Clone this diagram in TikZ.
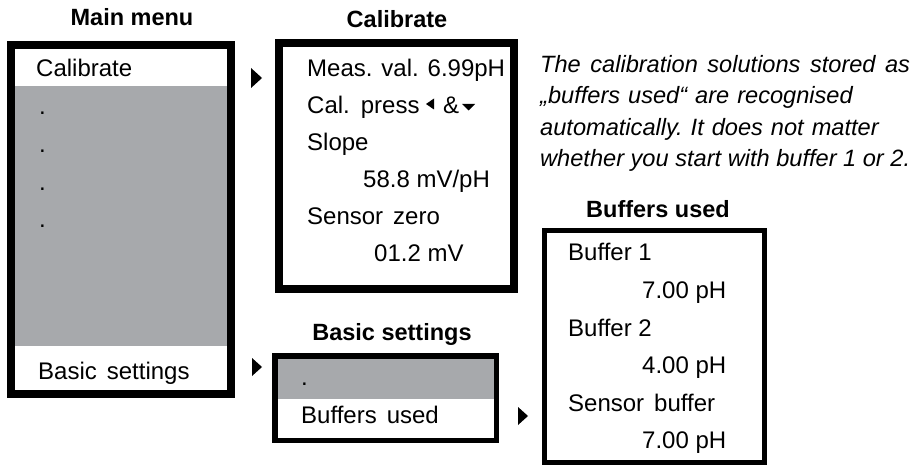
\documentclass[tikz,border=0pt]{standalone}
\usepackage{fontspec}
\setmainfont{Liberation Sans}
\newfontfamily\widefont[WordSpace=1.5]{Liberation Sans}
\definecolor{menugray}{RGB}{167,169,172}
\begin{document}
\begin{tikzpicture}[x=1pt,y=-1pt,
  txt/.style={anchor=base west, inner sep=0pt, font=\widefont\fontsize{24}{28}\selectfont},
  num/.style={anchor=base west, inner sep=0pt, font=\fontsize{24}{28}\selectfont},
  ttl/.style={anchor=base, inner sep=0pt, font=\fontsize{23.5}{28}\selectfont\bfseries},
  itl/.style={anchor=base west, inner sep=0pt, font=\fontsize{23.6}{28}\selectfont\itshape},
  thick frame/.style={draw=black, line width=8pt},
  thin frame/.style={draw=black, line width=5pt},
  pointer/.style={fill=black, draw=none}]
\useasboundingbox (0,0) rectangle (916,468);
% titles
\node[ttl] (tmain) at (132,25.5) {Main menu};
\node[ttl] (tcal) at (397,27.5) {Calibrate};
\node[ttl] (tbasic) at (392,340.5) {Basic settings};
\node[ttl] (tbuf) at (658,217.5) {Buffers used};
% main menu box
\fill[menugray] (15,86) rectangle (227,346);
\draw[thick frame] (11,45) rectangle (231,394);
\node[txt] (m1) at (36,76.6) {Calibrate};
\node[txt] (m2) at (39,115) {.};
\node[txt] (m3) at (39,152.5) {.};
\node[txt] (m4) at (39,190) {.};
\node[txt] (m5) at (39,227.5) {.};
\node[txt] (m6) at (38,379.6) {Basic settings};
% calibrate box
\draw[thick frame] (279,43) rectangle (514,289);
\node[num] (c1) at (307,76.6) {Meas. val. 6.99pH};
\node[num] (c2) at (307,113.6) {Cal.\hspace{11pt}press};
\fill[pointer] (426,104) -- (434,98.5) -- (434,109.5) -- cycle;
\node[num] (amp) at (443,113.6) {\&};
\fill[pointer] (462,104) -- (475,104) -- (468.5,110.5) -- cycle;
\node[txt] (c3) at (307,150.6) {Slope};
\node[num] (c4) at (363,187.6) {58.8 mV/pH};
\node[txt] (c5) at (307,224.6) {Sensor zero};
\node[num] (c6) at (374,261.6) {01.2 mV};
% basic settings box
\fill[menugray] (278,358) rectangle (494,399);
\draw[black, line width=5.5pt] (274.75,355.75) rectangle (496.25,440.25);
\node[txt] (b1) at (301,385) {.};
\node[txt] (b2) at (301,423.6) {Buffers used};
% buffers used box
\draw[thin frame] (544.5,230.5) rectangle (764.5,462.5);
\node[num] (u1) at (568,260.6) {Buffer 1};
\node[num] (u2) at (642,298.6) {7.00 pH};
\node[num] (u3) at (568,336) {Buffer 2};
\node[num] (u4) at (642,373.6) {4.00 pH};
\node[txt] (u5) at (568,411) {Sensor buffer};
\node[num] (u6) at (642,448.6) {7.00 pH};
% pointers
\fill[pointer] (251,68) -- (262,78) -- (251,88) -- cycle;
\fill[pointer] (252,358) -- (262,367) -- (252,376) -- cycle;
\fill[pointer] (518,407) -- (528,416) -- (518,425) -- cycle;
% note
\node[itl] (n1) at (540,72.5) {The\hspace{9.5pt}calibration\hspace{9.5pt}solutions\hspace{9.5pt}stored\hspace{9.5pt}as};
\node[itl] (n2) at (540,104) {„buffers\hspace{8pt}used“\hspace{8pt}are\hspace{8pt}recognised};
\node[itl] (n3) at (540,135.5) {automatically.\hspace{8pt}It\hspace{8pt}does\hspace{8pt}not\hspace{8pt}matter};
\node[itl] (n4) at (540,167) {whether you start with buffer 1 or 2.};
\end{tikzpicture}
\end{document}
